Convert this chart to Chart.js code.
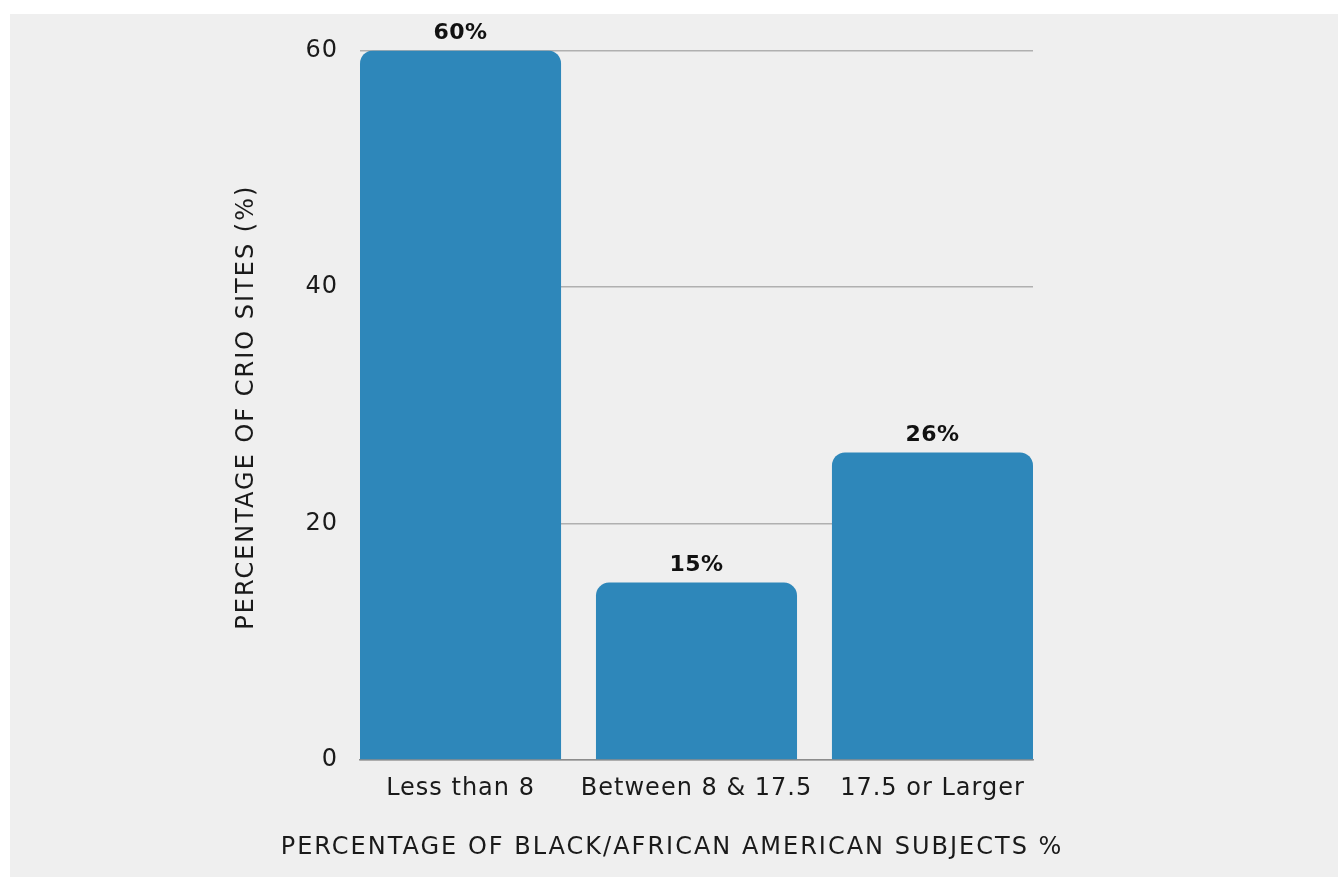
<!DOCTYPE html>
<html>
<head>
<meta charset="utf-8">
<script src="https://cdn.jsdelivr.net/npm/chart.js@4/dist/chart.umd.min.js"></script>
<style>
  html, body { margin: 0; padding: 0; background: #ffffff; }
  #panel { position: absolute; left: 10px; top: 14px; width: 1328px; height: 863px; background: #efefef; }
  canvas { display: block; }
</style>
</head>
<body>
<div id="panel"><canvas id="chart" width="1328" height="863"></canvas></div>
<script>
// Share of CRIO sites by percentage of Black/African American subjects
const categories = ['Less than 8', 'Between 8 & 17.5', '17.5 or Larger'];
const siteShare = [60, 15, 26];
const yTicks = [0, 20, 40, 60];
const yTitle = 'PERCENTAGE OF CRIO SITES (%)';
const xTitle = 'PERCENTAGE OF BLACK/AFRICAN AMERICAN SUBJECTS %';

const FONT = '"DejaVu Sans", sans-serif';
const TEXT = '#1a1a1a';

// Bars sit at positions 1..n on a numeric axis so the outer bars can meet the plot edges
const points = siteShare.map((v, i) => ({ x: i + 1, y: v }));

// Slightly open lettering for the tick labels
const wideText = {
  id: 'wideText',
  beforeUpdate(chart) { chart.ctx.letterSpacing = '1px'; },
  beforeDraw(chart) { chart.ctx.letterSpacing = '1px'; }
};

// Axis titles: the horizontal one is centred on the whole panel, the vertical one on the plot
const axisTitles = {
  id: 'axisTitles',
  afterDraw(chart) {
    const ctx = chart.ctx;
    const area = chart.chartArea;
    ctx.save();
    ctx.letterSpacing = '2px';
    ctx.font = '24px ' + FONT;
    ctx.fillStyle = TEXT;
    ctx.textAlign = 'center';
    ctx.textBaseline = 'middle';
    ctx.fillText(xTitle, chart.width / 2 - 2, 834);
    ctx.translate(237, (area.top + area.bottom) / 2 + 2);
    ctx.rotate(-Math.PI / 2);
    ctx.fillText(yTitle, 0, 0);
    ctx.restore();
  }
};

// Writes the value as a bold percentage above each bar
const valueLabels = {
  id: 'valueLabels',
  afterDatasetsDraw(chart) {
    const ctx = chart.ctx;
    const meta = chart.getDatasetMeta(0);
    ctx.save();
    ctx.letterSpacing = '0.5px';
    ctx.font = 'bold 22px ' + FONT;
    ctx.fillStyle = '#111111';
    ctx.textAlign = 'center';
    ctx.textBaseline = 'bottom';
    meta.data.forEach((bar, i) => {
      ctx.fillText(siteShare[i] + '%', bar.x, bar.y - 6);
    });
    ctx.restore();
  }
};

new Chart(document.getElementById('chart'), {
  type: 'bar',
  data: {
    datasets: [{
      data: points,
      backgroundColor: '#2e87ba',
      borderRadius: 13,
      borderSkipped: 'start',
      barPercentage: 0.852,
      categoryPercentage: 1.0
    }]
  },
  options: {
    responsive: false,
    animation: false,
    layout: { padding: { top: 34, right: 305, bottom: 0, left: 0 } },
    plugins: {
      legend: { display: false },
      tooltip: { enabled: false }
    },
    scales: {
      x: {
        type: 'linear',
        offset: false,
        min: 0.574,
        max: 3.426,
        afterBuildTicks(scale) { scale.ticks = categories.map((c, i) => ({ value: i + 1 })); },
        grid: { display: false, drawTicks: false, offset: false },
        border: { display: true, color: '#8c8c8c', width: 1.5 },
        ticks: {
          color: TEXT, font: { family: FONT, size: 24 }, padding: 14,
          maxRotation: 0, autoSkip: false,
          callback: (v) => categories[v - 1]
        },
        title: { display: false },
        afterFit(scale) { scale.height = 117; }
      },
      y: {
        min: 0, max: 60,
        afterBuildTicks(scale) { scale.ticks = yTicks.map(v => ({ value: v })); },
        grid: { color: '#b0b0b0', lineWidth: 1.5, drawTicks: false },
        border: { display: false },
        ticks: { color: TEXT, font: { family: FONT, size: 24 }, padding: 22 },
        title: { display: false },
        afterFit(scale) { scale.width = 350; }
      }
    }
  },
  plugins: [wideText, valueLabels, axisTitles]
});
</script>
</body>
</html>
